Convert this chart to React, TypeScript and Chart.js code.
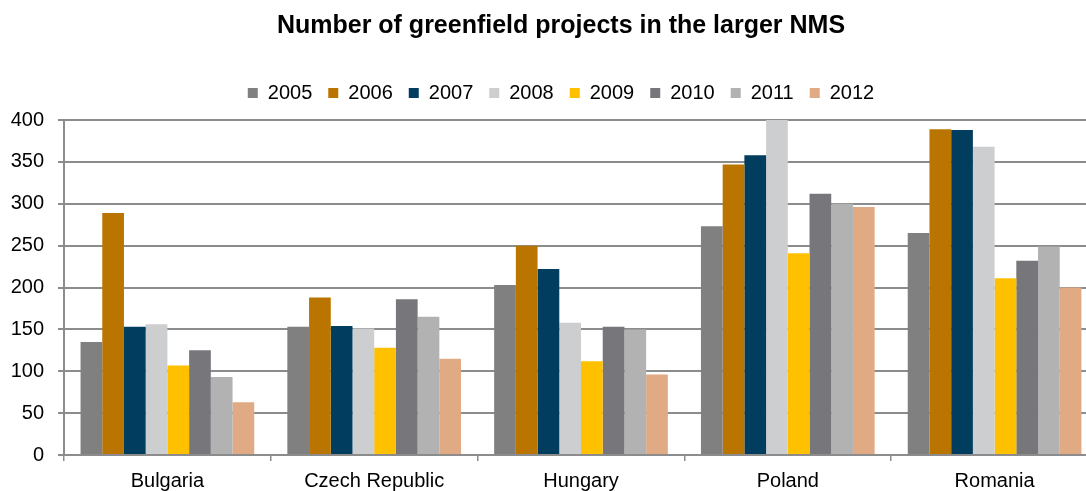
import React, { useEffect, useRef } from "react";
import { Chart, registerables } from "chart.js";
Chart.register(...registerables);

const titleText = "Number of greenfield projects in the larger NMS";
const categories = ["Bulgaria", "Czech Republic", "Hungary", "Poland", "Romania"];
const years = ["2005", "2006", "2007", "2008", "2009", "2010", "2011", "2012"];
const v2005 = [135, 153, 203, 273, 265];
const v2006 = [289, 188, 250, 347, 389];
const v2007 = [153, 154, 222, 358, 388];
const v2008 = [156, 151, 158, 400, 368];
const v2009 = [107, 128, 112, 241, 211];
const v2010 = [125, 186, 153, 312, 232];
const v2011 = [93, 165, 150, 300, 249];
const v2012 = [63, 115, 96, 296, 200];
const seriesValues = [v2005, v2006, v2007, v2008, v2009, v2010, v2011, v2012];
const seriesColors = ["#808081", "#BA7500", "#003D5F", "#CDCED0", "#FFC000", "#77767B", "#B2B2B3", "#E0AB84"];
const yMin = 0;
const yMax = 400;
const yStep = 50;

const FONT = "'Liberation Sans', Arial, sans-serif";

export default function App() {
  const ref = useRef<HTMLCanvasElement | null>(null);
  useEffect(() => {
    if (!ref.current) return;
    const legendMargin = {
      id: "legendMargin",
      beforeInit(chart: any) {
        const orig = chart.legend.fit;
        chart.legend.fit = function () {
          orig.bind(chart.legend)();
          this.height += 7;
        };
      },
    };
    const chart = new Chart(ref.current, {
      type: "bar",
      data: {
        labels: categories,
        datasets: years.map((y, i) => ({
          label: y,
          data: seriesValues[i],
          backgroundColor: seriesColors[i],
          borderWidth: 0,
          categoryPercentage: 0.84,
          barPercentage: 1.0,
          yAxisID: "y",
        })),
      },
      options: {
        animation: false,
        responsive: true,
        maintainAspectRatio: false,
        layout: { padding: { left: 0, right: 0, top: 0, bottom: 0 } },
        plugins: {
          title: {
            display: true,
            text: titleText,
            color: "#000",
            font: { family: FONT, size: 25, weight: "bold" },
            padding: { top: 11, bottom: 26 },
          },
          legend: {
            display: true,
            position: "top",
            labels: {
              color: "#000",
              font: { family: FONT, size: 20 },
              boxWidth: 10,
              boxHeight: 10,
              padding: 16,
            },
          },
          tooltip: { enabled: false },
        },
        scales: {
          x: {
            grid: {
              display: true,
              drawOnChartArea: false,
              drawTicks: true,
              tickLength: 6,
              color: "#8c8c8c",
              lineWidth: 1.5,
              offset: true,
            },
            border: { display: true, color: "#8c8c8c", width: 2 },
            ticks: {
              color: "#000",
              font: { family: FONT, size: 20 },
              padding: 8,
              maxRotation: 0,
            },
            afterFit(scale: any) {
              scale.height = 36;
            },
          },
          y: {
            position: "left",
            min: yMin,
            max: yMax,
            grid: {
              color: "#8c8c8c",
              lineWidth: 2,
              drawTicks: true,
              tickLength: 6,
            },
            border: { display: true, color: "#8c8c8c", width: 2 },
            ticks: {
              stepSize: yStep,
              color: "#000",
              font: { family: FONT, size: 20 },
              padding: 14,
            },
            afterFit(scale: any) {
              scale.width = 64;
            },
          },
          y2: {
            position: "right",
            display: true,
            grid: { display: false, drawTicks: false },
            border: { display: false },
            ticks: { display: false },
            afterFit(scale: any) {
              scale.width = 24;
            },
          },
        },
      },
      plugins: [legendMargin],
    });
    return () => chart.destroy();
  }, []);
  return (
    <div style={{ position: "fixed", left: 0, top: 0, width: 1122, height: 491, background: "#fff" }}>
      <canvas ref={ref} />
    </div>
  );
}
